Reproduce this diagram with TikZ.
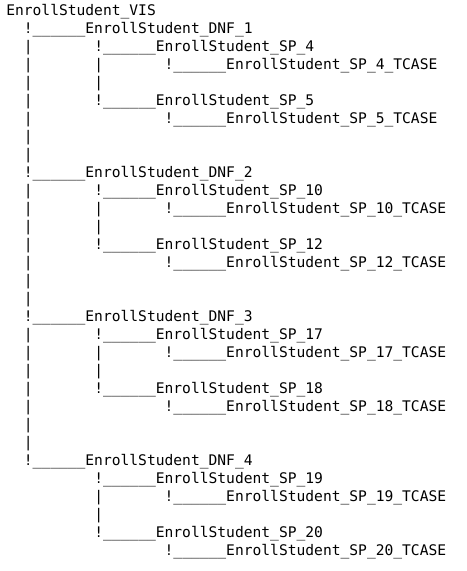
\documentclass[tikz,border=0pt]{standalone}
\usepackage{fontspec}
\setmonofont{DejaVu Sans Mono}
\newcommand{\tbranch}{!\_\_\_\_\_\_}
\newcommand{\trow}[4]{\node[txt] (#1) at ({4.5pt+(#2)*6.6pt},{-11.25pt-(#3)*13.5pt}) {#4};}

\begin{document}
\begin{tikzpicture}[txt/.style={anchor=base west, inner sep=0pt, font=\fontsize{10.96}{13.5}\selectfont\ttfamily}]
        \useasboundingbox (0,0) rectangle (350.25pt,-428.25pt);
        % root
        \trow{vis}{0}{0}{EnrollStudent\_VIS}
        \foreach \g/\a/\b in {1/4/5,2/10/12,3/17/18,4/19/20}{
            \pgfmathtruncatemacro{\L}{1+8*(\g-1)}
            % dnf level
            \trow{dnf\g}{2}{\L}{\tbranch EnrollStudent\_DNF\_\g}
            % sp level
            \trow{sp\a}{10}{\L+1}{\tbranch EnrollStudent\_SP\_\a}
            \trow{sp\b}{10}{\L+4}{\tbranch EnrollStudent\_SP\_\b}
            % tcase level
            \trow{tc\a}{18}{\L+2}{\tbranch EnrollStudent\_SP\_\a\_TCASE}
            \trow{tc\b}{18}{\L+5}{\tbranch EnrollStudent\_SP\_\b\_TCASE}
            % bars
            \trow{sbar\a-1}{10}{\L+2}{|}
            \trow{sbar\a-2}{10}{\L+3}{|}
            \ifnum\g<4
                \foreach \k in {1,...,7}{\trow{dbar\g-\k}{2}{\L+\k}{|}}
            \fi
        }
    \end{tikzpicture}
\end{document}
